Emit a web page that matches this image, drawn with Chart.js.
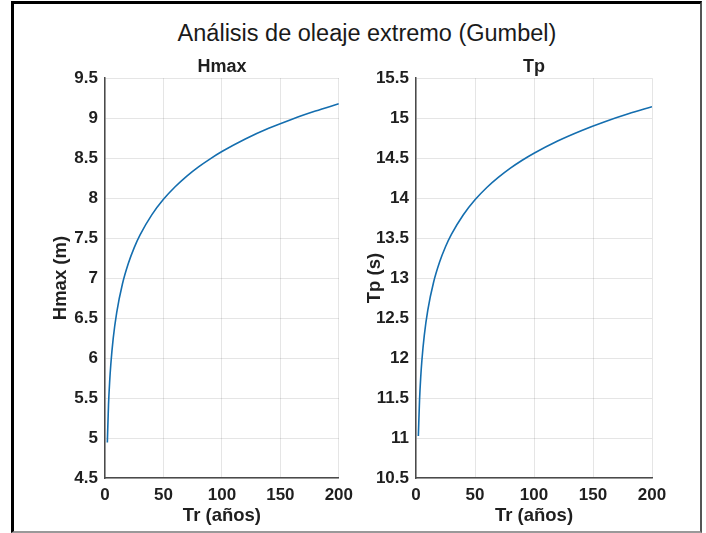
<!DOCTYPE html>
<html>
<head>
<meta charset="utf-8">
<script src="https://cdn.jsdelivr.net/npm/chart.js@4"></script>
<style>
  html, body { margin: 0; padding: 0; background: #fff; }
  body { width: 706px; height: 533px; position: relative; overflow: hidden; font-family: "Liberation Sans", Arial, Helvetica, sans-serif; }
  #frame { position: absolute; left: 11px; top: 1px; width: 686px; height: 527px;
           border-left: 3px solid #000; border-top: 3px solid #000;
           border-right: 2px solid #555; border-bottom: 2px solid #999; }
  #title { position: absolute; left: 117px; width: 500px; top: 18px; text-align: center;
           font-size: 23.5px; line-height: 30px; color: #1a1a1a; }
  canvas { position: absolute; }
  #c1 { left: 14px; top: 40px; }
  #c2 { left: 346px; top: 40px; }
</style>
</head>
<body>
<div id="frame"></div>
<div id="title">Análisis de oleaje extremo (Gumbel)</div>
<canvas id="c1" width="346" height="490" style="width:346px;height:490px"></canvas>
<canvas id="c2" width="354" height="490" style="width:354px;height:490px"></canvas>
<script>
// Return periods (years)
const trValues = [2, 3, 4, 5, 7, 10, 15, 20, 25, 30, 40, 50, 60, 70, 80, 90, 100, 120, 140, 160, 180, 200];
// Hmax (m)
const hmaxValues = [4.945, 5.414, 5.708, 5.926, 6.243, 6.568, 6.932, 7.185, 7.381, 7.540, 7.790, 7.984, 8.141, 8.275, 8.390, 8.491, 8.582, 8.739, 8.872, 8.987, 9.088, 9.179];
// Tp (s)
const tpValues = [11.026, 11.474, 11.760, 11.973, 12.281, 12.599, 12.953, 13.200, 13.391, 13.546, 13.789, 13.978, 14.132, 14.261, 14.374, 14.473, 14.561, 14.714, 14.843, 14.955, 15.054, 15.142];

const xTicks = [0, 50, 100, 150, 200];
const hmaxTicks = [4.5, 5, 5.5, 6, 6.5, 7, 7.5, 8, 8.5, 9, 9.5];
const tpTicks = [10.5, 11, 11.5, 12, 12.5, 13, 13.5, 14, 14.5, 15, 15.5];

const FONT = '"Liberation Sans", Arial, Helvetica, sans-serif';
const TXT = '#1f1f1f';

function makeChart(id, subTitle, yTitle, yVals, yTicks, yWidth, yTitlePad, padRight) {
  const pts = trValues.map((t, i) => ({ x: t, y: yVals[i] }));
  return new Chart(document.getElementById(id), {
    type: 'line',
    data: { datasets: [{
      data: pts,
      borderColor: 'rgb(20,110,175)',
      borderWidth: 1.6,
      pointRadius: 0,
      cubicInterpolationMode: 'monotone',
      fill: false
    }]},
    options: {
      responsive: false,
      animation: false,
      events: [],
      layout: { padding: { left: 0, right: padRight, top: 0, bottom: 0 } },
      plugins: {
        legend: { display: false },
        tooltip: { enabled: false },
        title: {
          display: true, text: subTitle, fullSize: false,
          color: TXT, font: { family: FONT, size: 18, weight: 'bold', lineHeight: 1.2 },
          padding: { top: 16.5, bottom: 0 }
        }
      },
      scales: {
        x: {
          type: 'linear', min: xTicks[0], max: xTicks[xTicks.length - 1],
          afterBuildTicks: s => { s.ticks = xTicks.map(v => ({ value: v })); },
          afterFit: s => { s.height = 52; },
          ticks: { color: TXT, padding: 7, font: { family: FONT, size: 17, weight: 'bold' }, maxRotation: 0,
                   callback: v => String(v) },
          grid: { color: 'rgba(0,0,0,0.1)', lineWidth: 1, drawTicks: false },
          border: { display: true, color: '#4a4a4a', width: 1.5 },
          title: { display: true, text: 'Tr (años)', color: TXT,
                   font: { family: FONT, size: 18.5, weight: 'bold', lineHeight: 1.2 },
                   padding: { top: 0, bottom: 3 } }
        },
        y: {
          type: 'linear', min: yTicks[0], max: yTicks[yTicks.length - 1],
          afterBuildTicks: s => { s.ticks = yTicks.map(v => ({ value: v })); },
          afterFit: s => { s.width = yWidth; },
          ticks: { color: TXT, padding: 7, font: { family: FONT, size: 17, weight: 'bold' },
                   callback: v => String(v) },
          grid: { color: 'rgba(0,0,0,0.1)', lineWidth: 1, drawTicks: false },
          border: { display: true, color: '#4a4a4a', width: 1.5 },
          title: { display: true, text: yTitle, color: TXT,
                   font: { family: FONT, size: 18.5, weight: 'bold', lineHeight: 1.2 },
                   padding: { top: yTitlePad, bottom: 0 } }
        }
      }
    }
  });
}

makeChart('c1', 'Hmax', 'Hmax (m)', hmaxValues, hmaxTicks, 91, 36, 19);
makeChart('c2', 'Tp', 'Tp (s)', tpValues, tpTicks, 70, 18, 48);
</script>
</body>
</html>
